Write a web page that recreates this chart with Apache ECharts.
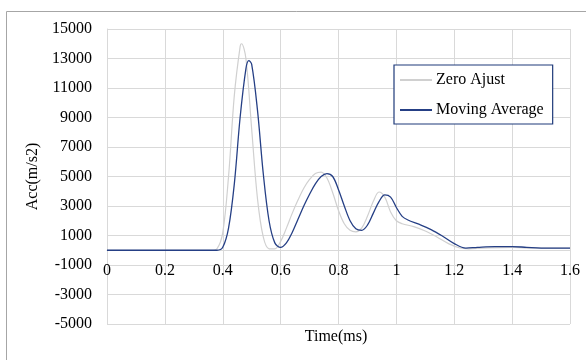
<!DOCTYPE html>
<html>
<head>
<meta charset="utf-8">
<script src="https://cdn.jsdelivr.net/npm/echarts@6/dist/echarts.min.js"></script>
<style>html,body{margin:0;padding:0;background:#fff}#c{width:586px;height:360px}</style>
</head>
<body>
<div id="c"></div>
<script>
const seriesNames = ['Zero Ajust', 'Moving Average'];
const xTicks = [0, 0.2, 0.4, 0.6, 0.8, 1, 1.2, 1.4, 1.6];
const yTicks = [-5000, -3000, -1000, 1000, 3000, 5000, 7000, 9000, 11000, 13000, 15000];

const zeroAjustT = [0, 0.36, 0.38, 0.40, 0.42, 0.44, 0.46, 0.465, 0.48, 0.50, 0.52, 0.54, 0.56, 0.58, 0.60, 0.62, 0.64, 0.66, 0.68, 0.70, 0.72, 0.74, 0.76, 0.78, 0.80, 0.82, 0.84, 0.86, 0.88, 0.90, 0.92, 0.94, 0.96, 0.98, 1.00, 1.02, 1.06, 1.10, 1.14, 1.18, 1.22, 1.25, 1.30, 1.40, 1.45, 1.50, 1.60];
const zeroAjustV = [0, 0, 100, 1200, 5000, 10500, 13800, 14000, 13000, 8200, 3500, 900, 100, 100, 600, 1500, 2500, 3400, 4200, 4800, 5200, 5300, 4900, 3900, 2700, 1800, 1350, 1250, 1500, 2300, 3300, 3950, 3600, 2600, 2000, 1800, 1600, 1300, 900, 450, 150, 100, 150, 200, 150, 150, 150];

const movingAvgT = [0, 0.38, 0.40, 0.42, 0.44, 0.46, 0.48, 0.49, 0.50, 0.52, 0.54, 0.56, 0.58, 0.60, 0.62, 0.64, 0.66, 0.68, 0.70, 0.72, 0.74, 0.76, 0.78, 0.80, 0.82, 0.84, 0.86, 0.88, 0.90, 0.92, 0.94, 0.96, 0.98, 1.00, 1.02, 1.04, 1.08, 1.12, 1.16, 1.20, 1.24, 1.28, 1.34, 1.40, 1.45, 1.50, 1.60];
const movingAvgV = [0, 0, 200, 1500, 4500, 9000, 12300, 12850, 12600, 9500, 5200, 2000, 500, 200, 500, 1200, 2100, 3000, 3800, 4500, 5000, 5200, 5000, 4100, 3000, 2000, 1450, 1350, 1700, 2500, 3300, 3750, 3600, 2900, 2300, 2050, 1750, 1400, 950, 450, 150, 200, 250, 250, 200, 150, 150];

const zip = (t, v) => t.map((x, i) => [x, v[i]]);
const font = '"Liberation Serif", "Times New Roman", serif';

const chart = echarts.init(document.getElementById('c'));
chart.setOption({
  animation: false,
  backgroundColor: '#fff',
  textStyle: { fontFamily: font },
  graphic: [{
    type: 'rect', silent: true, z: -1,
    shape: { x: 6.5, y: 11.5, width: 700, height: 500 },
    style: { fill: 'none', stroke: '#a6a6a6', lineWidth: 1 }
  }, {
    type: 'text', silent: true, x: 336, y: 337,
    style: { text: 'Time(ms)', font: '16px "Liberation Serif", serif', fill: '#000', align: 'center', verticalAlign: 'middle' }
  }],
  grid: { left: 107, right: 16, top: 29, bottom: 36, containLabel: false },
  legend: {
    orient: 'vertical', left: 394, top: 65,
    itemWidth: 32, itemHeight: 2, itemGap: 12,
    padding: [6, 9, 5, 6],
    borderColor: '#1f3a7a', borderWidth: 1.2, backgroundColor: '#fff',
    textStyle: { fontFamily: font, fontSize: 16, lineHeight: 18, color: '#000', padding: [0, 0, 0, -1] },
    icon: 'rect',
    data: seriesNames
  },
  xAxis: {
    type: 'value', min: 0, max: 1.6, interval: 0.2, position: 'bottom', offset: -74,
    axisLine: { show: true, onZero: false, lineStyle: { color: '#d9d9d9' } },
    axisTick: { show: false },
    axisLabel: { fontFamily: font, fontSize: 16, color: '#000', margin: 13,
      formatter: v => { const r = Math.round(v * 10) / 10; return xTicks.indexOf(r) >= 0 ? String(r) : ''; } },
    splitLine: { show: true, lineStyle: { color: '#d9d9d9', width: 1 } }
  },
  yAxis: {
    type: 'value', min: -5000, max: 15000, interval: 2000,
    name: 'Acc(m/s2)', nameLocation: 'middle', nameGap: 60,
    nameTextStyle: { fontFamily: font, fontSize: 16, color: '#000' },
    axisLine: { show: true, lineStyle: { color: '#d9d9d9' } },
    axisTick: { show: false },
    axisLabel: { fontFamily: font, fontSize: 16, color: '#000', margin: 15,
      formatter: v => { const r = Math.round(v); return yTicks.indexOf(r) >= 0 ? String(r) : ''; } },
    splitLine: { show: true, lineStyle: { color: '#d9d9d9', width: 1 } }
  },
  series: [{
    name: seriesNames[0], type: 'line', data: zip(zeroAjustT, zeroAjustV),
    smooth: 0.35, showSymbol: false, symbol: 'none',
    lineStyle: { color: '#d0d0d0', width: 1.2 }, itemStyle: { color: '#d0d0d0' }
  }, {
    name: seriesNames[1], type: 'line', data: zip(movingAvgT, movingAvgV),
    smooth: 0.35, showSymbol: false, symbol: 'none',
    lineStyle: { color: '#253f85', width: 1.3 }, itemStyle: { color: '#253f85' }
  }]
});
</script>
</body>
</html>
